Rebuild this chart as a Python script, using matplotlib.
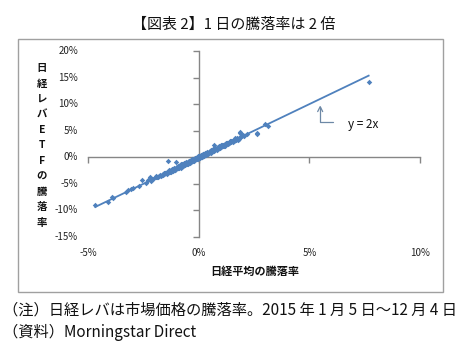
import matplotlib
matplotlib.use("Agg")
import matplotlib.pyplot as plt
from matplotlib.patches import Rectangle
from matplotlib.transforms import blended_transform_factory

plt.rcParams['font.family'] = ['Noto Sans CJK JP', 'DejaVu Sans']

# Daily returns (%) : Nikkei average (x) vs Nikkei leveraged ETF (y)
nikkei = [-4.67, -4.09, -3.90, -3.86, -3.18, -3.04, -2.95, -2.58, -2.27, -2.20, -2.10, -1.95,
          -1.88, -1.80, -1.75, -1.70, -1.66, -1.62, -1.58, -1.55, -1.52, -1.49, -1.45, -1.42,
          -1.39, -1.36, -1.33, -1.30, -1.27, -1.24, -1.20, -1.17, -1.14, -1.10, -1.07, -1.03,
          -1.00, -0.97, -0.94, -0.90, -0.87, -0.84, -0.80, -0.77, -0.74, -0.71, -0.68, -0.65,
          -0.62, -0.59, -0.56, -0.53, -0.50, -0.47, -0.44, -0.41, -0.38, -0.35, -0.32, -0.30,
          -0.27, -0.25, -0.22, -0.20, -0.18, -0.15, -0.13, -0.10, -0.08, -0.06, -0.04, -0.02,
          0.00, 0.02, 0.04, 0.06, 0.08, 0.10, 0.12, 0.14, 0.16, 0.19, 0.21, 0.24,
          0.26, 0.29, 0.31, 0.34, 0.37, 0.40, 0.43, 0.46, 0.49, 0.52, 0.55, 0.58,
          0.61, 0.64, 0.68, 0.71, 0.74, 0.78, 0.81, 0.85, 0.88, 0.92, 0.96, 1.00,
          1.04, 1.08, 1.12, 1.16, 1.20, 1.25, 1.30, 1.35, 1.40, 1.45, 1.50, 1.56,
          1.62, 1.68, 1.74, 1.80, 1.86, 1.86, 1.95, 2.05, 2.62, 2.65, 2.98, 3.14, 7.68,
          -1.28, -1.22, -1.15, -1.12, -1.05, -0.98, -0.92, -0.86, -0.82, -0.76, -0.72, -0.66,
          -0.60, -0.55, -0.48, -0.43, -0.36, -0.28, -0.23, -0.16, -0.11, -0.05, -0.01, 0.03,
          0.07, 0.11, 0.15, 0.18, 0.22, 0.27, 0.33, 0.38, 0.44, 0.50, 0.57, 0.63,
          0.70, 0.76, 0.83, 0.90, 0.98, 1.06, 1.14, 1.22, 1.33, 1.42, 1.53, 1.65,
          1.77, 1.90, -1.60, -1.50, -1.40, -1.85, -2.05, -2.40, -2.70, -3.30, -1.02, 0.86, -0.58,
          -1.45, -1.35, -1.25, -1.18, -1.08, -0.95, -0.88, -0.78, -0.69, -0.63,
          -0.52, -0.45, -0.40, -0.33, -0.26, -0.19, -0.12, -0.07, 0.05, 0.13,
          0.20, 0.30, 0.36, 0.47, 0.54, 0.66, 0.73, 0.93, 1.02, 1.18,
          1.27, 1.38, 1.48, 1.60, 1.72, 1.83, 2.00, 2.20, -2.15, -1.92]

etf = [-9.06, -8.40, -7.40, -7.65, -6.10, -5.90, -5.85, -4.30, -4.20, -3.70, -4.10, -3.80,
       -3.65, -3.55, -3.40, -3.45, -3.25, -3.30, -3.10, -3.05, -2.95, -3.05, -2.80, -2.90,
       -0.70, -2.65, -2.70, -2.55, -2.60, -2.40, -2.45, -2.30, -2.35, -2.15, -2.20, -0.90,
       -2.05, -1.90, -1.95, -1.75, -1.80, -1.62, -1.65, -1.50, -1.52, -1.38, -1.40, -1.25,
       -1.28, -1.14, -1.16, -1.02, -1.05, -0.90, -0.92, -0.78, -0.80, -0.66, -0.68, -0.55,
       -0.58, -0.46, -0.48, -0.36, -0.40, -0.26, -0.30, -0.16, -0.20, -0.08, -0.12, 0.02,
       -0.04, 0.08, 0.05, 0.16, 0.12, 0.24, 0.20, 0.33, 0.28, 0.42, 0.38, 0.52,
       0.48, 0.62, 0.58, 0.72, 0.70, 0.84, 0.82, 0.96, 0.94, 1.08, 1.06, 1.20,
       1.18, 1.32, 2.26, 1.38, 1.52, 1.52, 1.66, 1.66, 1.80, 1.80, 1.96, 1.96,
       2.12, 2.12, 2.28, 2.28, 2.44, 2.46, 2.64, 2.66, 2.84, 2.86, 3.04, 3.08,
       3.28, 3.32, 3.52, 3.56, 4.60, 4.70, 3.92, 4.06, 4.30, 4.50, 6.20, 5.90, 14.20,
       -2.80, -2.20, -2.55, -2.00, -2.35, -1.75, -2.10, -1.45, -1.95, -1.30, -1.70, -1.10,
       -1.45, -0.85, -1.20, -0.65, -0.95, -0.40, -0.65, -0.15, -0.40, 0.15, -0.25, 0.30,
       -0.05, 0.40, 0.10, 0.60, 0.25, 0.75, 0.45, 1.00, 0.65, 1.25, 0.90, 1.50,
       1.20, 1.75, 1.45, 2.05, 1.75, 2.35, 2.05, 2.65, 2.45, 3.05, 2.80, 3.55,
       3.25, 4.05, -3.22, -2.98, -2.84, -3.70, -4.14, -4.76, -5.44, -6.56, -2.00, 2.00, -1.20,
       -3.10, -2.45, -2.75, -2.15, -2.40, -1.70, -2.00, -1.35, -1.60, -1.05,
       -1.25, -0.75, -1.00, -0.50, -0.70, -0.25, -0.05, -0.30, 0.25, 0.05,
       0.55, 0.40, 0.90, 0.75, 1.30, 1.10, 1.65, 1.70, 2.30, 2.20,
       2.75, 2.60, 3.15, 3.05, 3.65, 3.45, 4.20, 4.35, -4.40, -3.60]

x_ticks = [-5, 0, 5, 10]
y_ticks = [-15, -10, -5, 0, 5, 10, 15, 20]
x_tick_labels = ['-5%', '0%', '5%', '10%']
y_tick_labels = ['-15%', '-10%', '-5%', '0%', '5%', '10%', '15%', '20%']

title = '【図表 2】1 日の騰落率は 2 倍'
ylabel = '日経レバETFの騰落率'
xlabel = '日経平均の騰落率'
note1 = '（注）日経レバは市場価格の騰落率。2015 年 1 月 5 日～12 月 4 日'
note2 = '（資料）Morningstar Direct'

blue = '#4f81bd'
axis_gray = '#868686'

fig = plt.figure(figsize=(4.76, 3.53), dpi=100)
fig.patch.set_facecolor('white')

# chart area border
fig.patches.append(Rectangle((18 / 476, 1 - 292 / 353), (443 - 18) / 476, (292 - 39) / 353,
                             transform=fig.transFigure, fill=False, edgecolor='#a0a0a0',
                             linewidth=1.0))

ax = fig.add_axes([88 / 476, 1 - 237 / 353, 332 / 476, 186 / 353])
ax.set_xlim(-5, 10)
ax.set_ylim(-15, 20)
ax.set_facecolor('none')

for s in ['top', 'right']:
    ax.spines[s].set_visible(False)
ax.spines['left'].set_position(('data', 0))
ax.spines['bottom'].set_position(('data', 0))
for s in ['left', 'bottom']:
    ax.spines[s].set_color(axis_gray)
    ax.spines[s].set_linewidth(1.0)

ax.set_xticks(x_ticks)
ax.set_yticks(y_ticks)
ax.tick_params(axis='both', direction='out', length=4, width=1.0, color=axis_gray,
               labelbottom=False, labelleft=False)

tx = blended_transform_factory(ax.transData, ax.transAxes)
for v, lab in zip(x_ticks, x_tick_labels):
    ax.text(v, -0.086, lab, transform=tx, ha='center', va='center', fontsize=7, color='#222222')
ty = blended_transform_factory(ax.transAxes, ax.transData)
for v, lab in zip(y_ticks, y_tick_labels):
    ax.text(-0.03, v, lab, transform=ty, ha='right', va='center', fontsize=7, color='#222222')

# y = 2x line over data range
lx = [min(nikkei), max(nikkei)]
ly = [2 * v for v in lx]
ax.plot(lx, ly, color=blue, linewidth=1.3, zorder=2)
ax.plot(nikkei, etf, linestyle='none', marker='D', markersize=2.8, color=blue,
        markeredgewidth=0, zorder=3)

ax.annotate('', xy=(5.49, 9.8), xytext=(6.09, 6.66),
            arrowprops=dict(arrowstyle='->', color='#6d88a6', lw=0.9,
                            connectionstyle='angle,angleA=0,angleB=90,rad=0',
                            shrinkA=0, shrinkB=0, mutation_scale=9))
ax.text(6.73, 6.2, 'y = 2x', ha='left', va='center', fontsize=8.5, color='#111111')

fig.text(234 / 476, 1 - 25 / 353, title, ha='center', va='center', fontsize=10.8, color='#111111')
fig.text(42 / 476, 1 - 145.5 / 353, '\n'.join(ylabel), ha='center', va='center',
         fontsize=7.5, fontweight='bold', linespacing=1.68, color='#111111')
fig.text(255 / 476, 1 - 271 / 353, xlabel, ha='center', va='center', fontsize=8,
         fontweight='bold', color='#111111')
fig.text(3 / 476, 1 - 310 / 353, note1, ha='left', va='center', fontsize=11, color='#111111')
fig.text(3 / 476, 1 - 332 / 353, note2, ha='left', va='center', fontsize=11, color='#111111')

fig.savefig('out.png', dpi=100, facecolor='white')
